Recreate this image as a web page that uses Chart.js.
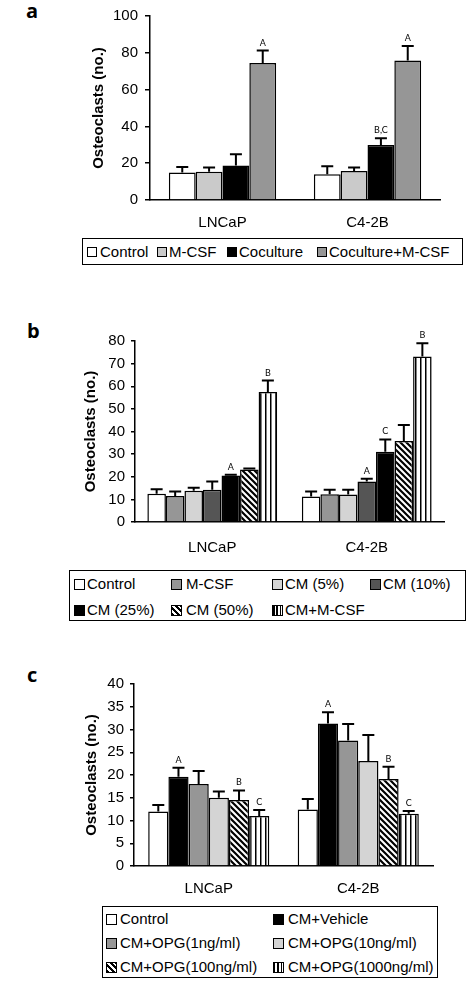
<!DOCTYPE html>
<html><head><meta charset="utf-8">
<script src="https://cdn.jsdelivr.net/npm/chart.js@4"></script>
<style>
html,body{margin:0;padding:0;background:#fff}
body{width:471px;height:997px;position:relative;overflow:hidden;font-family:"Liberation Sans",Arial,sans-serif;color:#000}
canvas{position:absolute;left:0}
.plabel{position:absolute;font-family:"Open Sans",sans-serif;font-weight:bold;font-size:20px;line-height:20px}
.lbox{position:absolute;border:1.5px solid #000;box-sizing:border-box}
.ltxt{position:absolute;font-size:15px;height:18px;line-height:18px;white-space:nowrap}
.sw{position:absolute;box-sizing:border-box;border:1.5px solid #000}
</style></head>
<body>
<div class="plabel" style="left:26px;top:1px">a</div>
<div class="plabel" style="left:27px;top:321px">b</div>
<div class="plabel" style="left:27px;top:665px">c</div>
<canvas id="ca"></canvas>
<canvas id="cb"></canvas>
<canvas id="cc"></canvas>
<script>
// ---------- DATA ----------
const categories = ['LNCaP', 'C4-2B'];
const yTitle = 'Osteoclasts (no.)';

// Panel a
const aSeriesNames = ['Control', 'M-CSF', 'Coculture', 'Coculture+M-CSF'];
const aControl = [15.0, 14.0];
const aControlErr = [2.9, 4.3];
const aMCSF = [15.4, 15.8];
const aMCSFErr = [2.2, 1.8];
const aCoculture = [18.8, 29.9];
const aCocultureErr = [6.1, 3.6];
const aCocultureMCSF = [74.4, 75.8];
const aCocultureMCSFErr = [6.8, 7.9];
const aMarks = [['', ''], ['', ''], ['', 'B,C'], ['A', 'A']];
const aTicks = [0, 20, 40, 60, 80, 100];

// Panel b
const bSeriesNames = ['Control', 'M-CSF', 'CM (5%)', 'CM (10%)', 'CM (25%)', 'CM (50%)', 'CM+M-CSF'];
const bControl = [12.5, 11.3];
const bControlErr = [2.0, 2.2];
const bMCSF = [11.5, 12.3];
const bMCSFErr = [2.0, 1.9];
const bCM5 = [13.8, 12.2];
const bCM5Err = [1.3, 2.0];
const bCM10 = [14.2, 17.9];
const bCM10Err = [3.7, 1.2];
const bCM25 = [20.5, 31.0];
const bCM25Err = [0.4, 5.5];
const bCM50 = [23.2, 35.8];
const bCM50Err = [0.5, 7.1];
const bCMMCSF = [57.5, 73.2];
const bCMMCSFErr = [5.0, 5.8];
const bMarks = [['', ''], ['', ''], ['', ''], ['', 'A'], ['A', 'C'], ['', ''], ['B', 'B']];
const bTicks = [0, 10, 20, 30, 40, 50, 60, 70, 80];

// Panel c
const cSeriesNames = ['Control', 'CM+Vehicle', 'CM+OPG(1ng/ml)', 'CM+OPG(10ng/ml)', 'CM+OPG(100ng/ml)', 'CM+OPG(1000ng/ml)'];
const cControl = [12.0, 12.4];
const cControlErr = [1.4, 2.3];
const cVehicle = [19.6, 31.3];
const cVehicleErr = [2.0, 2.5];
const cOPG1 = [18.0, 27.6];
const cOPG1Err = [2.9, 3.6];
const cOPG10 = [15.0, 23.1];
const cOPG10Err = [1.4, 5.7];
const cOPG100 = [14.5, 19.1];
const cOPG100Err = [2.1, 2.7];
const cOPG1000 = [11.0, 11.5];
const cOPG1000Err = [1.3, 0.6];
const cMarks = [['', ''], ['A', 'A'], ['', ''], ['', ''], ['B', 'B'], ['C', 'C']];
const cTicks = [0, 5, 10, 15, 20, 25, 30, 35, 40];

// ---------- STYLES ----------
const FONT = '"Liberation Sans", Arial, sans-serif';
function diagPattern() {
  const c = document.createElement('canvas'); c.width = 6; c.height = 6;
  const g = c.getContext('2d');
  g.fillStyle = '#fff'; g.fillRect(0, 0, 6, 6);
  g.strokeStyle = '#000'; g.lineWidth = 2.2;
  g.beginPath();
  for (const o of [-6, 0, 6]) { g.moveTo(o - 1, -1); g.lineTo(o + 7, 7); }
  g.stroke();
  return g.createPattern(c, 'repeat');
}
function vertPattern() {
  const c = document.createElement('canvas'); c.width = 5; c.height = 4;
  const g = c.getContext('2d');
  g.fillStyle = '#fff'; g.fillRect(0, 0, 5, 4);
  g.fillStyle = '#000'; g.fillRect(0, 0, 1.5, 4);
  return g.createPattern(c, 'repeat');
}
const DIAG = diagPattern(), VERT = vertPattern();
const CSS_DIAG = 'repeating-linear-gradient(45deg,#000 0 2px,#fff 2px 4px)';
const CSS_VERT = 'repeating-linear-gradient(90deg,#000 0 1.5px,#fff 1.5px 3.5px)';

// ---------- PLUGIN: error bars & letters ----------
const errPlugin = {
  id: 'errbars',
  afterDatasetsDraw(chart) {
    const ctx = chart.ctx, ys = chart.scales.y;
    chart.data.datasets.forEach((ds, i) => {
      const meta = chart.getDatasetMeta(i);
      meta.data.forEach((bar, j) => {
        const v = ds.data[j], e = ds.errors[j];
        const y0 = ys.getPixelForValue(v), y1 = ys.getPixelForValue(v + e);
        ctx.save();
        ctx.strokeStyle = '#000'; ctx.lineWidth = 2;
        ctx.beginPath();
        ctx.moveTo(bar.x, y0); ctx.lineTo(bar.x, y1);
        ctx.moveTo(bar.x - 6, y1); ctx.lineTo(bar.x + 6, y1);
        ctx.stroke();
        const m = ds.marks && ds.marks[j];
        if (m) {
          ctx.fillStyle = '#000'; ctx.font = '9px Lato, sans-serif';
          ctx.textAlign = 'center'; ctx.textBaseline = 'alphabetic';
          ctx.fillText(m, bar.x, y1 - 5);
        }
        ctx.restore();
      });
    });
  }
};

function makeChart(id, cfg) {
  const cv = document.getElementById(id);
  cv.width = 471; cv.height = cfg.h; cv.style.top = cfg.top + 'px';
  return new Chart(cv.getContext('2d'), {
    type: 'bar',
    data: {
      labels: categories,
      datasets: cfg.datasets.map(d => ({
        label: d.label, data: d.data, errors: d.err, marks: d.marks,
        backgroundColor: d.bg, borderColor: '#000', borderWidth: 1.5,
        barPercentage: 1, categoryPercentage: cfg.catPct, inflateAmount: 0
      }))
    },
    options: {
      responsive: false, animation: false, devicePixelRatio: 1,
      layout: { padding: { left: 0, top: cfg.chartTop - cfg.top, right: 471 - cfg.chartRight, bottom: 0 } },
      plugins: { legend: { display: false }, tooltip: { enabled: false } },
      scales: {
        x: {
          grid: { display: false },
          border: { display: true, color: '#000', width: 1.5 },
          ticks: { color: '#000', font: { family: FONT, size: 15 }, padding: cfg.xPad },
          afterFit: s => { s.height = cfg.h - (cfg.chartBottom - cfg.top); }
        },
        y: {
          min: 0, max: cfg.ticks[cfg.ticks.length - 1],
          afterBuildTicks: s => { s.ticks = cfg.ticks.map(v => ({ value: v })); },
          grid: { drawOnChartArea: false, drawTicks: true, tickLength: cfg.tl, color: '#000', lineWidth: 1.5 },
          border: { display: true, color: '#000', width: 1.5 },
          ticks: { color: '#000', font: { family: FONT, size: 15 }, padding: cfg.yPad },
          title: { display: true, text: yTitle, color: '#000', font: { family: FONT, size: 15, weight: 'bold' }, padding: { top: cfg.titleX - 9, bottom: 0 } },
          afterFit: s => { s.width = cfg.chartLeft; }
        }
      }
    },
    plugins: [errPlugin]
  });
}

makeChart('ca', {
  top: 0, h: 232, chartTop: 14, chartBottom: 200, chartLeft: 150, chartRight: 440,
  catPct: 0.74, tl: 5, yPad: 7, xPad: 6, titleX: 99, ticks: aTicks,
  datasets: [
    { label: aSeriesNames[0], data: aControl, err: aControlErr, marks: aMarks[0], bg: '#ffffff' },
    { label: aSeriesNames[1], data: aMCSF, err: aMCSFErr, marks: aMarks[1], bg: '#cacaca' },
    { label: aSeriesNames[2], data: aCoculture, err: aCocultureErr, marks: aMarks[2], bg: '#000000' },
    { label: aSeriesNames[3], data: aCocultureMCSF, err: aCocultureMCSFErr, marks: aMarks[3], bg: '#969696' }
  ]
});
makeChart('cb', {
  top: 300, h: 265, chartTop: 341, chartBottom: 522, chartLeft: 135, chartRight: 444,
  catPct: 0.84, tl: 4, yPad: 6, xPad: 9, titleX: 91, ticks: bTicks,
  datasets: [
    { label: bSeriesNames[0], data: bControl, err: bControlErr, marks: bMarks[0], bg: '#ffffff' },
    { label: bSeriesNames[1], data: bMCSF, err: bMCSFErr, marks: bMarks[1], bg: '#969696' },
    { label: bSeriesNames[2], data: bCM5, err: bCM5Err, marks: bMarks[2], bg: '#d4d4d4' },
    { label: bSeriesNames[3], data: bCM10, err: bCM10Err, marks: bMarks[3], bg: '#555555' },
    { label: bSeriesNames[4], data: bCM25, err: bCM25Err, marks: bMarks[4], bg: '#000000' },
    { label: bSeriesNames[5], data: bCM50, err: bCM50Err, marks: bMarks[5], bg: DIAG },
    { label: bSeriesNames[6], data: bCMMCSF, err: bCMMCSFErr, marks: bMarks[6], bg: VERT }
  ]
});
makeChart('cc', {
  top: 660, h: 240, chartTop: 684, chartBottom: 866, chartLeft: 134, chartRight: 433,
  catPct: 0.81, tl: 4, yPad: 6, xPad: 6, titleX: 92, ticks: cTicks,
  datasets: [
    { label: cSeriesNames[0], data: cControl, err: cControlErr, marks: cMarks[0], bg: '#ffffff' },
    { label: cSeriesNames[1], data: cVehicle, err: cVehicleErr, marks: cMarks[1], bg: '#000000' },
    { label: cSeriesNames[2], data: cOPG1, err: cOPG1Err, marks: cMarks[2], bg: '#969696' },
    { label: cSeriesNames[3], data: cOPG10, err: cOPG10Err, marks: cMarks[3], bg: '#d4d4d4' },
    { label: cSeriesNames[4], data: cOPG100, err: cOPG100Err, marks: cMarks[4], bg: DIAG },
    { label: cSeriesNames[5], data: cOPG1000, err: cOPG1000Err, marks: cMarks[5], bg: VERT }
  ]
});

// ---------- HTML legends ----------
function legendBox(l, t, r, b) {
  const d = document.createElement('div'); d.className = 'lbox';
  d.style.cssText = `left:${l}px;top:${t}px;width:${r - l}px;height:${b - t}px`;
  document.body.appendChild(d);
}
function legendItem(name, bg, sx, tx, cy, size) {
  const s = document.createElement('div'); s.className = 'sw';
  s.style.cssText = `left:${sx}px;top:${cy - size / 2}px;width:${size}px;height:${size}px;background:${bg}`;
  const t = document.createElement('div'); t.className = 'ltxt';
  t.style.cssText = `left:${tx}px;top:${cy - 9}px`;
  t.textContent = name;
  document.body.appendChild(s); document.body.appendChild(t);
}
legendBox(82, 238, 463, 265);
const aBg = ['#fff', '#cacaca', '#000', '#969696'];
[[87, 100], [157, 169], [227, 239], [317, 329]].forEach((p, i) => legendItem(aSeriesNames[i], aBg[i], p[0], p[1], 252, 10));

legendBox(69, 570, 466, 621);
const bBg = ['#fff', '#969696', '#d4d4d4', '#555', '#000', CSS_DIAG, CSS_VERT];
const bPos = [[74, 87, 584], [171, 186, 584], [272, 285, 584], [370, 383, 584], [74, 87, 610], [171, 186, 610], [272, 285, 610]];
bPos.forEach((p, i) => legendItem(bSeriesNames[i], bBg[i], p[0], p[1], p[2], 11));

legendBox(102, 906, 438, 978);
const cBg = ['#fff', '#000', '#969696', '#d4d4d4', CSS_DIAG, CSS_VERT];
const cPos = [[106, 120, 919], [273, 288, 919], [106, 120, 943], [273, 288, 943], [106, 120, 967], [273, 288, 967]];
cPos.forEach((p, i) => legendItem(cSeriesNames[i], cBg[i], p[0], p[1], p[2], 11));
</script>
</body></html>
